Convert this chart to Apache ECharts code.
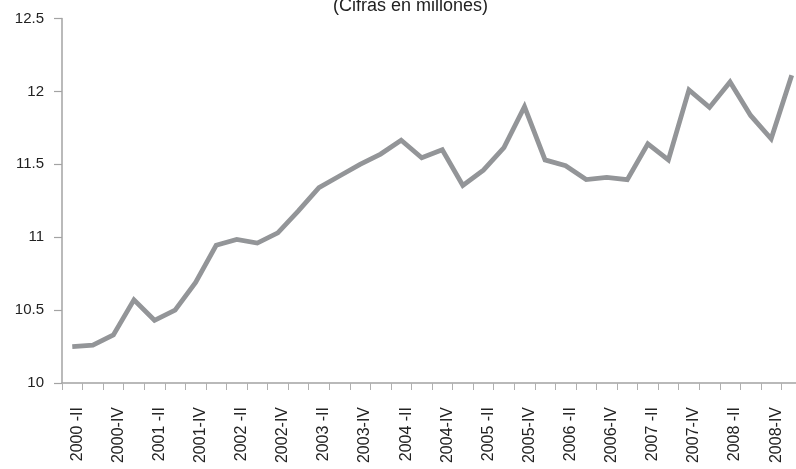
<!DOCTYPE html>
<html>
<head>
<meta charset="utf-8">
<script src="https://cdn.jsdelivr.net/npm/echarts@6/dist/echarts.min.js"></script>
<style>
  html, body { margin: 0; padding: 0; background: #fff; overflow: hidden; }
  /* the original chart runs a little past the right edge of the picture */
  #chart { width: 802px; height: 469px; }
</style>
</head>
<body>
<div id="chart"></div>
<script>
// quarters 2000-II .. 2009-I (last one is cut at the right edge)
const years = [2000, 2001, 2002, 2003, 2004, 2005, 2006, 2007, 2008, 2009];
const quarterNames = ['I', 'II', 'III', 'IV'];
const quarters = [];
years.forEach(y => {
  quarterNames.forEach(q => {
    if (y === 2000 && q === 'I') return;
    if (y === 2009 && q !== 'I') return;
    quarters.push(q === 'IV' ? y + '-' + q : y + ' -' + q);
  });
});

// ocupados, en millones
const values = [
  10.25, 10.26, 10.33, 10.57, 10.43, 10.50, 10.69, 10.945, 10.985, 10.96,
  11.03, 11.18, 11.34, 11.42, 11.50, 11.57, 11.665, 11.545, 11.60, 11.355,
  11.46, 11.615, 11.895, 11.53, 11.49, 11.395, 11.41, 11.395, 11.64, 11.53,
  12.01, 11.89, 12.065, 11.835, 11.675, 12.11
];

const yTicks = { min: 10, max: 12.5, step: 0.5 };

const chart = echarts.init(document.getElementById('chart'));
chart.setOption({
  animation: false,
  title: {
    text: '(Cifras en millones)',
    left: 328,
    top: -8,
    textStyle: { fontFamily: 'Liberation Sans', fontSize: 18, fontWeight: 'normal', color: '#222' }
  },
  grid: { left: 62, right: 0, top: 18.5, bottom: 86 },
  xAxis: {
    type: 'category',
    data: quarters,
    boundaryGap: true,
    axisLine: { lineStyle: { color: '#a3a3a3', width: 1.5 } },
    axisTick: { show: true, length: 7, interval: 0, lineStyle: { color: '#b0b0b0', width: 1 } },
    axisLabel: {
      interval: 1,
      rotate: 90,
      margin: 24,
      verticalAlign: 'top',
      lineHeight: 10,
      fontFamily: 'Liberation Sans',
      fontSize: 16,
      color: '#222'
    },
    splitLine: { show: false }
  },
  yAxis: {
    type: 'value',
    min: yTicks.min,
    max: yTicks.max,
    interval: yTicks.step,
    axisLine: { show: true, lineStyle: { color: '#a3a3a3', width: 1.5 } },
    axisTick: { show: true, length: 8, lineStyle: { color: '#a3a3a3', width: 1.2 } },
    axisLabel: {
      margin: 18,
      fontFamily: 'Liberation Sans',
      fontSize: 15,
      color: '#222',
      formatter: v => String(Math.round(v * 10) / 10)
    },
    splitLine: { show: false }
  },
  series: [{
    type: 'line',
    data: values,
    symbol: 'none',
    lineStyle: { color: '#939598', width: 4.8, join: 'miter' }
  }]
});
</script>
</body>
</html>
